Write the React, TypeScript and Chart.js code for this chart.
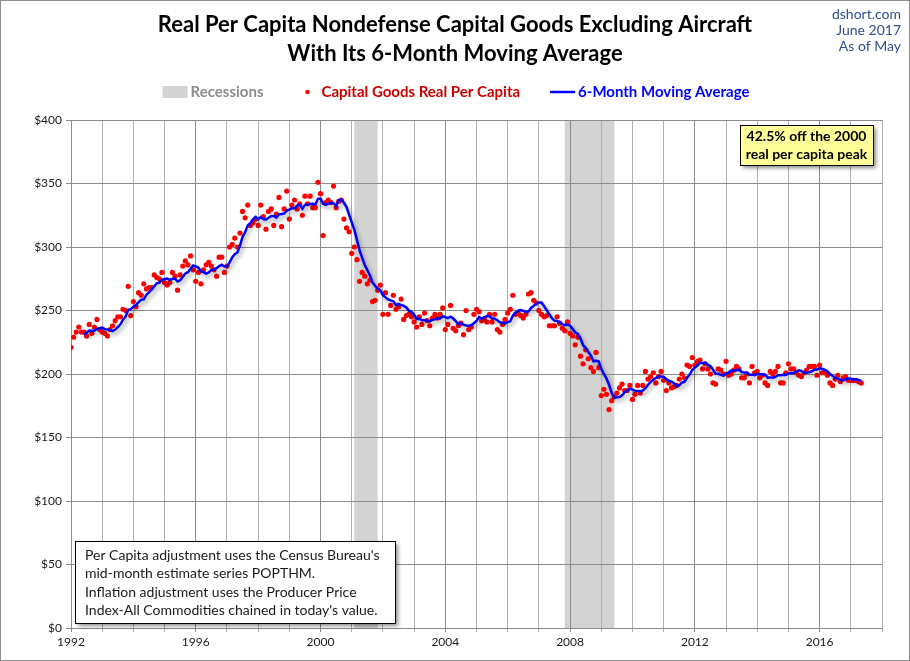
import { useEffect, useRef } from 'react';
import { Chart, registerables } from 'chart.js';

Chart.register(...registerables);

// ---------- data ----------
const startYear = 1992;
// Monthly real per capita capital goods (Jan 1992 .. May 2017)
const capGoods: number[] = [
  221, 229, 233, 237, 233, 233, 230, 239, 232, 237, 243, 235, // 1992
  233, 232, 230, 235, 238, 242, 245, 245, 251, 250, 269, 246, // 1993
  257, 253, 264, 262, 271, 267, 268, 268, 278, 276, 275, 280, // 1994
  272, 270, 272, 280, 277, 266, 278, 285, 289, 286, 293, 282, // 1995
  273, 280, 271, 282, 286, 288, 285, 282, 277, 292, 292, 280, // 1996
  285, 300, 302, 307, 300, 311, 328, 323, 333, 317, 319, 322, // 1997
  317, 333, 324, 314, 328, 330, 317, 326, 339, 316, 330, 344, // 1998
  322, 333, 337, 330, 334, 325, 340, 334, 340, 331, 331, 351, // 1999
  342, 309, 335, 337, 335, 348, 331, 336, 337, 322, 315, 312, // 2000
  295, 300, 290, 273, 280, 277, 271, 274, 257, 258, 266, 270, // 2001
  247, 264, 247, 254, 262, 251, 253, 259, 243, 246, 247, 245, // 2002
  241, 237, 245, 239, 248, 242, 238, 244, 247, 244, 247, 252, // 2003
  235, 239, 254, 236, 234, 238, 240, 231, 250, 235, 237, 247, // 2004
  251, 249, 242, 243, 241, 247, 241, 247, 235, 233, 239, 243, // 2005
  248, 251, 262, 247, 248, 246, 244, 247, 263, 264, 258, 256, // 2006
  250, 247, 245, 246, 238, 238, 238, 245, 240, 236, 234, 241, // 2007
  232, 230, 223, 229, 214, 208, 219, 212, 205, 202, 217, 205, // 2008
  183, 188, 184, 172, 179, 182, 185, 189, 192, 187, 187, 191, // 2009
  180, 184, 191, 185, 191, 202, 196, 198, 201, 193, 198, 202, // 2010
  195, 187, 193, 189, 190, 191, 196, 200, 197, 207, 206, 213, // 2011
  207, 210, 211, 204, 208, 204, 200, 193, 192, 204, 203, 200, // 2012
  210, 199, 200, 203, 206, 204, 197, 197, 200, 193, 206, 201, // 2013
  202, 197, 199, 193, 191, 202, 200, 202, 206, 193, 193, 201, // 2014
  208, 204, 204, 201, 199, 198, 201, 203, 206, 206, 206, 199, // 2015
  207, 201, 201, 199, 193, 191, 196, 199, 194, 197, 198, 195, // 2016
  195, 195, 195, 194, 193, // 2017
];
const maWindow = 6;

const recessionStarts = [2001.08, 2007.83];
const recessionEnds = [2001.83, 2009.42];

const xMin = 1992;
const xMax = 2018;
const xLabelEvery = 4;
const yMin = 0;
const yMax = 400;
const yStep = 50;

const titleLines = [
  'Real Per Capita Nondefense Capital Goods Excluding Aircraft',
  'With Its 6-Month Moving Average',
];
const sourceLines = ['dshort.com', 'June 2017', 'As of May'];
const legendLabels = ['Recessions', 'Capital Goods Real Per Capita', '6-Month Moving Average'];
const peakNote = ['42.5% off the 2000', 'real per capita peak'];
const methodNote = [
  "Per Capita adjustment uses the Census Bureau's",
  'mid-month estimate series POPTHM.',
  'Inflation adjustment uses the Producer Price',
  "Index-All Commodities chained in today's value.",
];

// ---------- derived ----------
const dotPoints = capGoods.map((v, i) => ({ x: startYear + i / 12, y: v }));
const maPoints = capGoods
  .map((_, i) => {
    if (i < maWindow - 1) return null;
    const win = capGoods.slice(i - maWindow + 1, i + 1);
    return { x: startYear + i / 12, y: win.reduce((a, b) => a + b, 0) / maWindow };
  })
  .filter((p) => p !== null);

const FONT = 'Lato, "Open Sans", "DejaVu Sans", sans-serif';
const DOT_RED = '#ff0000';
const TEXT_RED = '#cc0000';
const LINE_BLUE = '#0000ff';
const REC_GRAY = '#d3d3d3';
const GRID_MAJOR = '#8c8c8c';
const GRID_MINOR = '#b0b0b0';

const overlayPlugin = {
  id: 'overlay',
  beforeDraw(chart: any) {
    const { ctx, chartArea, scales } = chart;
    const x = scales.x;
    ctx.save();
    ctx.fillStyle = '#ffffff';
    ctx.fillRect(0, 0, chart.width, chart.height);
    ctx.fillStyle = REC_GRAY;
    recessionStarts.forEach((s, i) => {
      const x0 = x.getPixelForValue(s);
      const x1 = x.getPixelForValue(recessionEnds[i]);
      ctx.fillRect(x0, chartArea.top, x1 - x0, chartArea.bottom - chartArea.top);
    });
    ctx.restore();
  },
  beforeDatasetDraw(chart: any, args: any) {
    if (args.index === 1) {
      const ctx = chart.ctx;
      ctx.save();
      ctx.shadowColor = 'rgba(0,0,0,0.35)';
      ctx.shadowBlur = 4;
      ctx.shadowOffsetX = 2;
      ctx.shadowOffsetY = 3;
    }
  },
  afterDatasetDraw(chart: any, args: any) {
    if (args.index === 1) chart.ctx.restore();
  },
  afterDraw(chart: any) {
    const { ctx } = chart;
    ctx.save();
    // outer frame
    ctx.strokeStyle = '#8e8e8e';
    ctx.lineWidth = 1;
    ctx.strokeRect(0.5, 0.5, chart.width - 1, chart.height - 1);

    // title
    ctx.fillStyle = '#000';
    ctx.textAlign = 'center';
    ctx.textBaseline = 'middle';
    ctx.font = `bold 22px ${FONT}`;
    ctx.fillText(titleLines[0], 455, 25);
    ctx.fillText(titleLines[1], 455, 54);

    // source text
    ctx.fillStyle = '#2f4f8f';
    ctx.textAlign = 'right';
    ctx.font = `14px ${FONT}`;
    sourceLines.forEach((t, i) => ctx.fillText(t, 901, 14 + i * 16));

    // legend
    ctx.font = `bold 15px ${FONT}`;
    ctx.textAlign = 'left';
    const ly = 92;
    const w0 = ctx.measureText(legendLabels[0]).width;
    const w1 = ctx.measureText(legendLabels[1]).width;
    const w2 = ctx.measureText(legendLabels[2]).width;
    const total = 25 + 3 + w0 + 44 + 14 + w1 + 30 + 25 + 3 + w2;
    let lx = 456 - total / 2;
    ctx.fillStyle = REC_GRAY;
    ctx.fillRect(lx, ly - 6, 25, 12);
    lx += 28;
    ctx.fillStyle = '#8c8c8c';
    ctx.fillText(legendLabels[0], lx, ly);
    lx += w0 + 44;
    ctx.fillStyle = DOT_RED;
    ctx.beginPath();
    ctx.arc(lx, ly, 2.2, 0, Math.PI * 2);
    ctx.fill();
    lx += 14;
    ctx.fillStyle = TEXT_RED;
    ctx.fillText(legendLabels[1], lx, ly);
    lx += w1 + 30;
    ctx.strokeStyle = LINE_BLUE;
    ctx.lineWidth = 2.5;
    ctx.beginPath();
    ctx.moveTo(lx, ly);
    ctx.lineTo(lx + 25, ly);
    ctx.stroke();
    lx += 28;
    ctx.fillStyle = LINE_BLUE;
    ctx.fillText(legendLabels[2], lx, ly);

    // peak note box
    const bx = 740, by = 125, bw = 133, bh = 40;
    ctx.save();
    ctx.shadowColor = 'rgba(0,0,0,0.45)';
    ctx.shadowBlur = 4;
    ctx.shadowOffsetX = 3;
    ctx.shadowOffsetY = 3;
    ctx.fillStyle = '#ffff99';
    ctx.fillRect(bx, by, bw, bh);
    ctx.restore();
    ctx.strokeStyle = '#000';
    ctx.lineWidth = 1;
    ctx.strokeRect(bx + 0.5, by + 0.5, bw, bh);
    ctx.fillStyle = '#000';
    ctx.textAlign = 'center';
    ctx.font = `bold 14px ${FONT}`;
    ctx.fillText(peakNote[0], bx + bw / 2, by + 11);
    ctx.fillText(peakNote[1], bx + bw / 2, by + 29);

    // method note box
    const nx = 75, ny = 541, nw = 320, nh = 82;
    ctx.save();
    ctx.shadowColor = 'rgba(0,0,0,0.45)';
    ctx.shadowBlur = 4;
    ctx.shadowOffsetX = 3;
    ctx.shadowOffsetY = 3;
    ctx.fillStyle = '#ffffff';
    ctx.fillRect(nx, ny, nw, nh);
    ctx.restore();
    ctx.strokeStyle = '#000';
    ctx.strokeRect(nx + 0.5, ny + 0.5, nw, nh);
    ctx.fillStyle = '#1a1a1a';
    ctx.textAlign = 'left';
    ctx.font = `14px ${FONT}`;
    methodNote.forEach((t, i) => ctx.fillText(t, nx + 10, ny + 14 + i * 18.5));
    ctx.restore();
  },
};

export default function App() {
  const ref = useRef<HTMLCanvasElement | null>(null);
  useEffect(() => {
    if (!ref.current) return;
    const chart = new Chart(ref.current, {
      type: 'scatter',
      data: {
        datasets: [
          {
            label: legendLabels[1],
            data: dotPoints,
            backgroundColor: DOT_RED,
            borderWidth: 0,
            pointRadius: 2.6,
            pointHoverRadius: 2.6,
            showLine: false,
            order: 2,
          },
          {
            label: legendLabels[2],
            data: maPoints as any,
            borderColor: LINE_BLUE,
            backgroundColor: LINE_BLUE,
            borderWidth: 2.5,
            pointRadius: 0,
            showLine: true,
            tension: 0,
            order: 1,
          },
        ],
      },
      options: {
        responsive: false,
        animation: false,
        events: [],
        layout: { padding: { top: 120, left: 0, right: 28, bottom: 0 } },
        plugins: {
          legend: { display: false },
          title: { display: false },
          tooltip: { enabled: false },
        },
        scales: {
          x: {
            type: 'linear',
            min: xMin,
            max: xMax,
            afterFit: (s: any) => {
              s.height = 33;
            },
            ticks: {
              stepSize: 1,
              autoSkip: false,
              maxRotation: 0,
              padding: 3,
              color: '#1a1a1a',
              font: { family: FONT, size: 12 },
              callback: (v: any) => ((Number(v) - xMin) % xLabelEvery === 0 ? String(v) : ''),
            },
            grid: {
              color: (c: any) =>
                c.tick && (c.tick.value - xMin) % xLabelEvery === 0 ? GRID_MAJOR : GRID_MINOR,
              lineWidth: 1,
              tickLength: 4,
            },
            border: { color: GRID_MAJOR },
          },
          y: {
            min: yMin,
            max: yMax,
            afterFit: (s: any) => {
              s.width = 71;
            },
            ticks: {
              stepSize: yStep,
              padding: 4,
              color: '#1a1a1a',
              font: { family: FONT, size: 12 },
              callback: (v: any) => '$' + v,
            },
            grid: { color: GRID_MAJOR, lineWidth: 1, tickLength: 5 },
            border: { color: GRID_MAJOR },
          },
        },
      },
      plugins: [overlayPlugin],
    });
    return () => chart.destroy();
  }, []);
  return (
    <div style={{ position: 'absolute', left: 0, top: 0, width: 910, height: 661, background: '#fff' }}>
      <canvas ref={ref} width={910} height={661} style={{ width: 910, height: 661, display: 'block' }} />
    </div>
  );
}
